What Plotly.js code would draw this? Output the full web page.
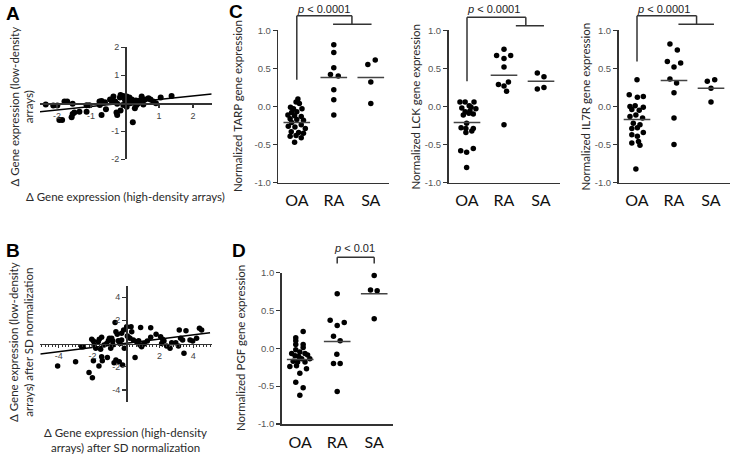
<!DOCTYPE html>
<html><head><meta charset="utf-8">
<script src="https://cdn.plot.ly/plotly-3.0.1.min.js"></script>
<style>html,body{margin:0;padding:0;background:#fff;} #chart{width:730px;height:455px;}</style>
</head><body><div id="chart"></div>
<script>
// ---------- Panel A ----------
const aX = [-2.33,-2.11,-1.99,-1.78,-1.70,-1.54,-1.93,-1.85,-1.57,-1.54,-1.49,-1.34,-1.13,-1.05,-1.13,-0.75,-0.69,-0.59,-0.74,-0.69,-0.56,-0.44,-0.39,-0.34,-0.29,-0.23,-0.25,-0.23,-0.13,-0.15,-0.13,-0.05,0.05,0.13,0.00,0.10,0.15,0.25,0.32,0.39,0.44,0.49,0.59,0.54,0.29,0.23,0.69,0.75,0.83,0.91,1.05,1.37,0.20,0.34,-0.05,0.05];
const aY = [-0.04,-0.08,-0.08,0.06,0.06,-0.02,-0.60,-0.60,-0.50,-0.38,-0.33,-0.30,-0.07,-0.07,-0.30,0.06,0.08,0.04,-0.06,-0.42,-0.21,0.14,0.08,0.24,0.06,-0.02,-0.33,-0.42,-0.26,0.21,0.30,0.26,0.24,0.21,0.12,0.08,0.00,0.02,0.10,0.00,0.10,0.24,0.14,-0.04,-0.18,-0.68,0.18,0.14,0.06,0.00,0.21,0.26,0.14,-0.06,-0.06,-0.12];
const aFitX = [-2.5, 2.55];
const aFitY = [-0.30, 0.33];
const aTicks = [-2, -1, 1, 2];
const aTickText = ['-2', '-1', '1', '2'];

// ---------- Panel B ----------
const bX = [-4.07,-3.0,-2.64,-2.54,-2.2,-2.0,-2.04,-1.94,-1.9,-1.94,-1.8,-1.65,-1.59,-1.61,-1.45,-1.51,-1.45,-1.41,-1.15,-1.05,-0.99,-1.11,-0.91,-0.85,-0.79,-0.71,-0.65,-0.6,-0.52,-0.46,-0.36,-0.6,-0.4,-0.2,-0.1,-0.26,0.04,0.3,0.08,0.14,0.24,0.34,0.44,0.54,0.63,0.87,0.83,0.93,1.07,1.27,1.47,1.47,1.79,2.06,2.18,2.26,2.12,2.42,2.62,2.72,3.12,3.17,3.25,3.37,3.45,3.57,3.81,3.97,4.2,4.37,4.5,1.07,0.75,-0.14,-0.26,-0.79,-1.31,2.96];
const bY = [-1.94,-1.57,-0.27,-0.27,-2.51,-2.95,0.36,0.22,-0.13,-1.48,-0.42,0.16,0.36,-1.94,0.53,-0.5,-1.15,-1.48,0.01,0.24,0.45,-1.2,-0.42,0.45,0.22,-1.65,1.8,1.02,0.79,0.24,0.01,-1.42,-1.57,-1.85,-0.42,0.3,1.45,1.45,0.65,0.53,0.45,1.02,0.3,-1.2,0.16,1.39,-0.13,-0.27,-0.04,0.22,1.36,0.53,0.79,0.59,0.36,0.22,0.01,-0.22,-0.42,0.07,-0.22,1.16,0.45,0.3,-0.85,1.1,0.3,0.22,0.45,1.31,1.16,0.01,0.24,1.16,0.88,-0.13,-0.13,0.07];
const bFitX = [-5.1, 5.0];
const bFitY = [-0.90, 0.93];
const bTicks = [-4, -2, 2, 4];
const bTickText = ['-4', '-2', '2', '4'];

// ---------- Panels C & D (groups) ----------
const groups = ['OA', 'RA', 'SA'];
const yTicks = [-1, -0.5, 0, 0.5, 1];
const yTickText = ['-1.0', '-0.5', '0.0', '0.5', '1.0'];

// TARP
const tarpOA   = [0.10,0.06,0.04,-0.01,-0.03,-0.03,-0.07,-0.08,-0.11,-0.12,-0.13,-0.16,-0.17,-0.18,-0.21,-0.24,-0.26,-0.27,-0.29,-0.33,-0.34,-0.35,-0.39,-0.38,-0.41,-0.47];
const tarpOAdx = [0.03,-0.02,0.07,-0.17,-0.09,0.14,0,-0.14,-0.24,-0.06,0.12,-0.18,0,0.18,-0.14,0.12,-0.23,-0.05,0.23,-0.15,0.05,0.18,-0.18,-0.02,0.12,-0.06];
const tarpRA   = [0.81,0.71,0.51,0.42,0.40,0.22,0.09,-0.11];
const tarpRAdx = [0,0,0,-0.09,0.12,0,0,0];
const tarpSA   = [0.55,0.61,0.32,0.04];
const tarpSAdx = [-0.08,0.12,0,0];
const tarpMed  = [-0.21,0.38,0.38];

// LCK
const lckOA   = [0.06,0.06,0.06,0.01,-0.02,-0.01,-0.03,-0.07,-0.09,-0.10,-0.11,-0.06,-0.22,-0.28,-0.29,-0.29,-0.34,-0.32,-0.58,-0.60,-0.55,-0.80];
const lckOAdx = [-0.19,-0.05,0.19,0.06,-0.14,0.11,0.24,-0.05,0.05,0.17,-0.10,0.08,-0.01,-0.16,-0.03,0.17,-0.03,0.13,-0.17,-0.01,0.17,-0.01];
const lckRA   = [0.75,0.67,0.63,0.67,0.52,0.29,0.27,0.32,0.20,-0.24];
const lckRAdx = [0,-0.2,0,0.18,0,-0.15,0,0.12,0.07,0];
const lckSA   = [0.44,0.39,0.23,0.25];
const lckSAdx = [-0.1,0.08,-0.1,0.08];
const lckMed  = [-0.21,0.41,0.33];

// IL7R
const il7rOA   = [0.35,0.155,0.12,0.13,0.0,0.01,-0.01,-0.04,-0.05,-0.13,-0.11,-0.15,-0.22,-0.24,-0.29,-0.28,-0.34,-0.37,-0.39,-0.48,-0.46,-0.51,-0.82];
const il7rOAdx = [0,-0.21,0.01,0.17,-0.19,-0.05,0.17,-0.14,0.06,-0.19,-0.03,0.15,-0.1,0.08,-0.14,0.01,0.17,-0.14,0.01,-0.14,0.04,0.08,-0.03];
const il7rRA   = [0.82,0.74,0.59,0.52,0.57,0.36,0.31,0.18,-0.15,-0.50];
const il7rRAdx = [-0.11,0.09,-0.18,0,0.18,-0.11,0.07,0,0,0];
const il7rSA   = [0.33,0.35,0.24,0.06];
const il7rSAdx = [-0.1,0.1,0,0];
const il7rMed  = [-0.17,0.34,0.24];

// PGF
const pgfOA   = [0.22,0.14,0.10,0.05,0.05,0.01,-0.02,-0.07,-0.05,-0.07,-0.10,-0.11,-0.09,-0.14,-0.14,-0.17,-0.18,-0.18,-0.24,-0.23,-0.27,-0.33,-0.45,-0.52,-0.62];
const pgfOAdx = [0.08,-0.12,-0.12,0.08,-0.12,0.08,-0.12,-0.23,-0.01,0.13,-0.14,-0.04,0.2,0.04,0.26,-0.19,-0.07,0.13,-0.28,-0.1,0.17,-0.01,-0.12,0.08,-0.01];
const pgfRA   = [0.72,0.37,0.30,0.34,0.16,0.10,-0.08,-0.20,-0.20,-0.57];
const pgfRAdx = [0,-0.19,0,0.19,-0.1,0.08,-0.01,-0.1,0.08,0];
const pgfSA   = [0.96,0.77,0.76,0.39];
const pgfSAdx = [0,-0.1,0.08,0];
const pgfMed  = [-0.15,0.09,0.72];

// ---------- styling ----------
const TXT = 'Lato, "Open Sans", sans-serif';
const NUM = '"Liberation Sans", Arial, sans-serif';
const AX = '#333';
const traces = [];

function dots(x, y, xa, ya, size) {
  traces.push({type:'scatter', mode:'markers', x:x, y:y, xaxis:xa, yaxis:ya,
    marker:{color:'#000', size:size}, cliponaxis:false, hoverinfo:'skip'});
}
function line(x, y, xa, ya, color, w) {
  traces.push({type:'scatter', mode:'lines', x:x, y:y, xaxis:xa, yaxis:ya,
    line:{color:color, width:w}, cliponaxis:false, hoverinfo:'skip'});
}

// A
dots(aX, aY, 'x', 'y', 6);
line(aFitX, aFitY, 'x', 'y', '#000', 1.5);
// B
dots(bX, bY, 'x2', 'y2', 5.5);
line(bFitX, bFitY, 'x2', 'y2', '#000', 1.5);

function groupPanel(ids, oa, oadx, ra, radx, sa, sadx, med) {
  const [xa, ya] = ids;
  const sets = [[oa, oadx], [ra, radx], [sa, sadx]];
  sets.forEach(([ys, dxs], g) => {
    dots(dxs.map(d => g + d), ys, xa, ya, 5.5);
  });
  med.forEach((m, g) => line([g - 0.36, g + 0.36], [m, m], xa, ya, '#444', 1.5));
}
groupPanel(['x3','y3'], tarpOA, tarpOAdx, tarpRA, tarpRAdx, tarpSA, tarpSAdx, tarpMed);
groupPanel(['x4','y4'], lckOA, lckOAdx, lckRA, lckRAdx, lckSA, lckSAdx, lckMed);
groupPanel(['x5','y5'], il7rOA, il7rOAdx, il7rRA, il7rRAdx, il7rSA, il7rSAdx, il7rMed);
groupPanel(['x6','y6'], pgfOA, pgfOAdx, pgfRA, pgfRAdx, pgfSA, pgfSAdx, pgfMed);

// ---------- axes ----------
function freeX(domain, range, pos, ticks, ttext, extra) {
  return Object.assign({domain:domain, range:range, anchor:'free', position:pos,
    showline:true, linecolor:AX, linewidth:1.5, zeroline:false, showgrid:false,
    tickvals:ticks, ticktext:ttext, ticks:'outside', ticklen:3, tickwidth:1.2, tickcolor:AX,
    tickfont:{family:NUM, size:9, color:'#444'}, fixedrange:true}, extra || {});
}
function freeY(domain, range, pos, ticks, ttext) {
  return {domain:domain, range:range, anchor:'free', position:pos,
    showline:true, linecolor:AX, linewidth:1.5, zeroline:false, showgrid:false,
    tickvals:ticks, ticktext:ttext, ticks:'outside', ticklen:4, tickwidth:1.2, tickcolor:AX,
    tickfont:{family:NUM, size:9, color:'#444'}, fixedrange:true};
}
function catX(domain, anchor) {
  return {domain:domain, range:[-0.5, 2.5], anchor:anchor, showline:true, linecolor:AX, linewidth:1.5,
    zeroline:false, showgrid:false, tickvals:[0,1,2], ticktext:groups, ticks:'', ticklabelstandoff:3,
    tickfont:{family:TXT, size:16, color:'#111'}, fixedrange:true};
}
function valY(domain, anchor) {
  return {domain:domain, range:[-1, 1], anchor:anchor, showline:true, linecolor:AX, linewidth:1.5,
    zeroline:false, showgrid:false, tickvals:yTicks, ticktext:yTickText, ticks:'outside',
    ticklen:4, tickwidth:1.2, tickcolor:AX, tickfont:{family:NUM, size:9.5, color:'#555'}, fixedrange:true};
}

const W = 730, H = 455;
const px = v => v / W, py = v => 1 - v / H;

const layout = {
  width: W, height: H, margin:{l:0, r:0, t:0, b:0},
  paper_bgcolor:'#fff', plot_bgcolor:'rgba(0,0,0,0)', showlegend:false,
  xaxis:  freeX([px(40), px(211.7)], [-2.5, 2.55], py(103.3), aTicks, aTickText),
  yaxis:  freeY([py(159.3), py(47.3)], [-2, 2], px(125), aTicks, aTickText),
  xaxis2: freeX([px(40.3), px(211.7)], [-5.1, 5.1], py(343.5), bTicks, bTickText,
            {minor:{dtick:0.2, ticks:'outside', ticklen:2, tickwidth:1, tickcolor:AX}}),
  yaxis2: freeY([py(401.5), py(285.5)], [-5, 5], px(126), bTicks, bTickText),
  xaxis3: catX([px(278.3), px(389.3)], 'y3'),
  yaxis3: valY([py(182.7), py(30.3)], 'x3'),
  xaxis4: catX([px(448.5), px(559.5)], 'y4'),
  yaxis4: valY([py(182.7), py(30.3)], 'x4'),
  xaxis5: catX([px(618.5), px(729.5)], 'y5'),
  yaxis5: valY([py(182.7), py(30.3)], 'x5'),
  xaxis6: catX([px(281.7), px(392.7)], 'y6'),
  yaxis6: valY([py(424), py(272.5)], 'x6'),
  shapes: [], annotations: []
};

// brackets (y in data units, converted to domain fraction of the [-1,1] axis)
const dom = v => (v + 1) / 2;
function seg(xa, ya, x0, y0, x1, y1) {
  layout.shapes.push({type:'line', xref:xa, yref:ya + ' domain', x0:x0, x1:x1, y0:dom(y0), y1:dom(y1),
    line:{color:'#333', width:1.5}});
}
function bigBracket(xa, ya, top, low, leg, mid, lx0, lx1) {
  seg(xa, ya, 0, top, mid, top);
  seg(xa, ya, 0, top, 0, leg);
  seg(xa, ya, mid, top, mid, low);
  seg(xa, ya, lx0, low, lx1, low);
}
bigBracket('x3','y3', 1.19, 1.08, 0.35, 1.49, 0.98, 2.02);
bigBracket('x4','y4', 1.17, 1.06, 0.33, 1.59, 1.32, 2.08);
bigBracket('x5','y5', 1.19, 1.08, 0.59, 1.61, 1.12, 2.08);
// D bracket RA-SA
seg('x6','y6', 1, 1.20, 2, 1.20);
seg('x6','y6', 1, 1.20, 1, 1.12);
seg('x6','y6', 2, 1.20, 2, 1.12);

function ptext(xa, ya, x, y, t) {
  layout.annotations.push({xref:xa, yref:ya + ' domain', x:x, y:dom(y), text:t, showarrow:false,
    font:{family:NUM, size:11, color:'#222'}, xanchor:'center', yanchor:'middle'});
}
ptext('x3','y3', 0.71, 1.276, '<i>p</i> < 0.0001');
ptext('x4','y4', 0.71, 1.276, '<i>p</i> < 0.0001');
ptext('x5','y5', 0.71, 1.276, '<i>p</i> < 0.0001');
ptext('x6','y6', 1.48, 1.32, '<i>p</i> < 0.01');

function ann(x, y, t, size, angle, extra) {
  layout.annotations.push(Object.assign({xref:'paper', yref:'paper', x:px(x), y:py(y), text:t,
    showarrow:false, textangle:angle || 0, xanchor:'center', yanchor:'middle',
    font:{family:TXT, size:size, color:'#2a2a2a'}}, extra || {}));
}
// panel letters
const bold = {font:{family:'"Liberation Sans", Arial, sans-serif', size:19, color:'#000', weight:'bold'}};
ann(13, 13, '<b>A</b>', 19, 0, bold);
ann(13, 250, '<b>B</b>', 19, 0, bold);
ann(236, 11, '<b>C</b>', 19, 0, bold);
ann(239, 250, '<b>D</b>', 19, 0, bold);
// titles A/B
ann(21, 106.5, 'Δ Gene expression (low-density<br>arrays)', 11.5, -90);
ann(125, 196, 'Δ Gene expression (high-density arrays)', 11.5, 0);
ann(21, 342, 'Δ Gene expression (low-density<br>arrays) after SD normalization', 11.5, -90);
ann(125, 440, 'Δ Gene expression (high-density<br>arrays) after SD normalization', 11.5, 0);
// titles C/D
ann(237.5, 106.5, 'Normalized TARP gene expression', 11.5, -90);
ann(415, 106.5, 'Normalized LCK gene expression', 11.5, -90);
ann(585, 106.5, 'Normalized IL7R gene expression', 11.5, -90);
ann(240, 348, 'Normalized PGF gene expression', 11.5, -90);

Plotly.newPlot('chart', traces, layout, {staticPlot:true, displayModeBar:false});
</script>
</body></html>
